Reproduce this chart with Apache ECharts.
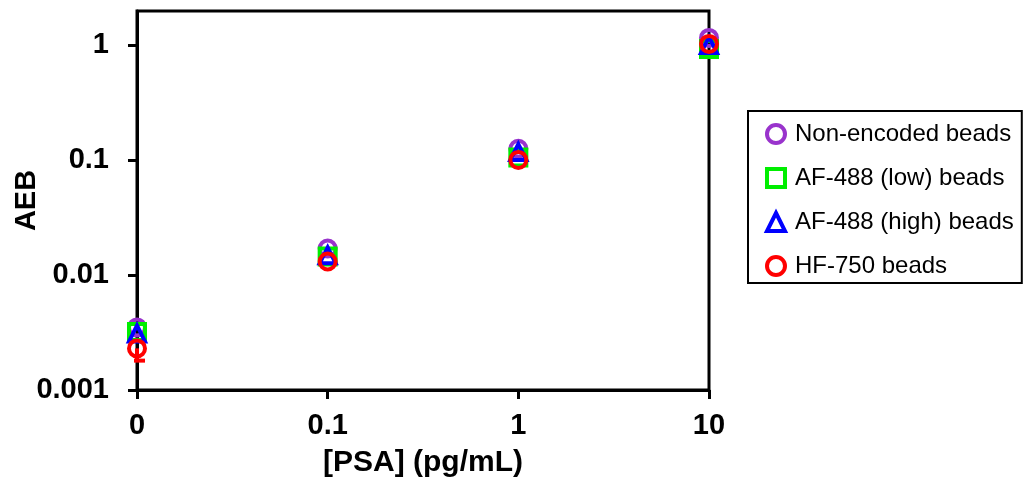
<!DOCTYPE html>
<html>
<head>
<meta charset="utf-8">
<script src="https://cdn.jsdelivr.net/npm/echarts@6/dist/echarts.min.js"></script>
<style>
  html, body { margin: 0; padding: 0; background: #fff; }
  #chart { width: 1025px; height: 491px; }
</style>
</head>
<body>
<div id="chart"></div>
<script>
  // PSA concentrations (x categories, 0 drawn at the left edge)
  const psaLevels = ['0', '0.1', '1', '10']
  // AEB values, one array per bead type
  const nonEncoded = [0.0035, 0.017, 0.125, 1.15]
  const af488Low = [0.0032, 0.0145, 0.105, 0.92]
  const af488High = [0.0031, 0.0148, 0.117, 1.0]
  const hf750 = [0.0023, 0.0131, 0.1, 1.02]
  // error bar on HF-750 at 0 pg/mL (the only one that shows)
  const hf750Low = [0.0018, null, null, null]
  const yTicks = [0.001, 0.01, 0.1, 1]

  const font = 'Arial, "Liberation Sans", sans-serif'
  const chart = echarts.init(document.getElementById('chart'))

  const pointStyle = color => ({
    color: 'transparent',
    borderColor: color,
    borderWidth: 4,
    opacity: 1
  })

  const option = {
    animation: false,
    backgroundColor: '#fff',
    grid: {
      left: 137,
      right: 316,
      top: 11,
      bottom: 101,
      outerBoundsMode: 'none',
      show: true,
      borderColor: '#000',
      borderWidth: 3
    },
    legend: {
      orient: 'vertical',
      left: 748,
      top: 111,
      padding: [11, 8, 5, 17],
      itemWidth: 18,
      itemHeight: 18,
      itemGap: 20,
      borderColor: '#000',
      borderWidth: 2,
      itemStyle: { borderWidth: 4, opacity: 1 },
      data: ['Non-encoded beads', 'AF-488 (low) beads', 'AF-488 (high) beads', 'HF-750 beads'],
      textStyle: {
        fontFamily: font,
        fontSize: 24,
        lineHeight: 24,
        color: '#000',
        padding: [0, 0, 0, 5]
      }
    },
    xAxis: {
      type: 'category',
      data: psaLevels,
      boundaryGap: false,
      name: '[PSA] (pg/mL)',
      nameLocation: 'middle',
      nameGap: 58,
      nameMoveOverlap: false,
      nameTextStyle: { fontFamily: font, fontSize: 30, fontWeight: 'bold', color: '#000' },
      axisLine: { lineStyle: { color: '#000', width: 3 } },
      axisTick: { length: 9, lineStyle: { color: '#000', width: 3 } },
      axisLabel: { fontFamily: font, fontSize: 29, fontWeight: 'bold', color: '#000', margin: 21 },
      splitLine: { show: false }
    },
    yAxis: {
      type: 'log',
      logBase: 10,
      min: 0.001,
      max: 1.97,
      name: 'AEB',
      nameLocation: 'middle',
      nameGap: 96,
      nameMoveOverlap: false,
      nameTextStyle: { fontFamily: font, fontSize: 29, fontWeight: 'bold', color: '#000' },
      axisLine: { show: true, lineStyle: { color: '#000', width: 3 } },
      axisTick: { show: true, length: 9, customValues: yTicks, lineStyle: { color: '#000', width: 3 } },
      axisLabel: {
        fontFamily: font,
        fontSize: 29,
        fontWeight: 'bold',
        color: '#000',
        margin: 28,
        customValues: yTicks,
        formatter: v => {
          const t = yTicks.find(k => Math.abs(Math.log10(v) - Math.log10(k)) < 1e-6)
          return t === undefined ? '' : String(t)
        }
      },
      splitLine: { show: false }
    },
    series: [
      {
        name: 'Non-encoded beads',
        type: 'scatter',
        symbol: 'circle',
        symbolSize: 16,
        itemStyle: pointStyle('#9933cc'),
        data: nonEncoded,
        z: 2
      },
      {
        name: 'AF-488 (low) beads',
        type: 'scatter',
        symbol: 'rect',
        symbolSize: 16,
        itemStyle: pointStyle('#00ee00'),
        data: af488Low,
        z: 3
      },
      {
        name: 'AF-488 (high) beads',
        type: 'scatter',
        symbol: 'triangle',
        symbolSize: 16,
        itemStyle: pointStyle('#0000ff'),
        data: af488High,
        z: 4
      },
      {
        name: 'HF-750 beads',
        type: 'scatter',
        symbol: 'circle',
        symbolSize: 16,
        itemStyle: pointStyle('#ff0000'),
        data: hf750,
        z: 6
      },
      {
        type: 'custom',
        z: 5,
        silent: true,
        data: hf750Low.map((lo, i) => [i, hf750[i], lo]).filter(d => d[2] !== null),
        renderItem: (params, api) => {
          const top = api.coord([api.value(0), api.value(1)])
          const bot = api.coord([api.value(0), api.value(2)])
          const style = { stroke: '#ff0000', lineWidth: 4 }
          return {
            type: 'group',
            children: [
              { type: 'line', shape: { x1: top[0], y1: top[1], x2: bot[0], y2: bot[1] }, style },
              { type: 'line', shape: { x1: bot[0] - 3, y1: bot[1], x2: bot[0] + 8, y2: bot[1] }, style }
            ]
          }
        }
      }
    ]
  }
  chart.setOption(option)
</script>
</body>
</html>
